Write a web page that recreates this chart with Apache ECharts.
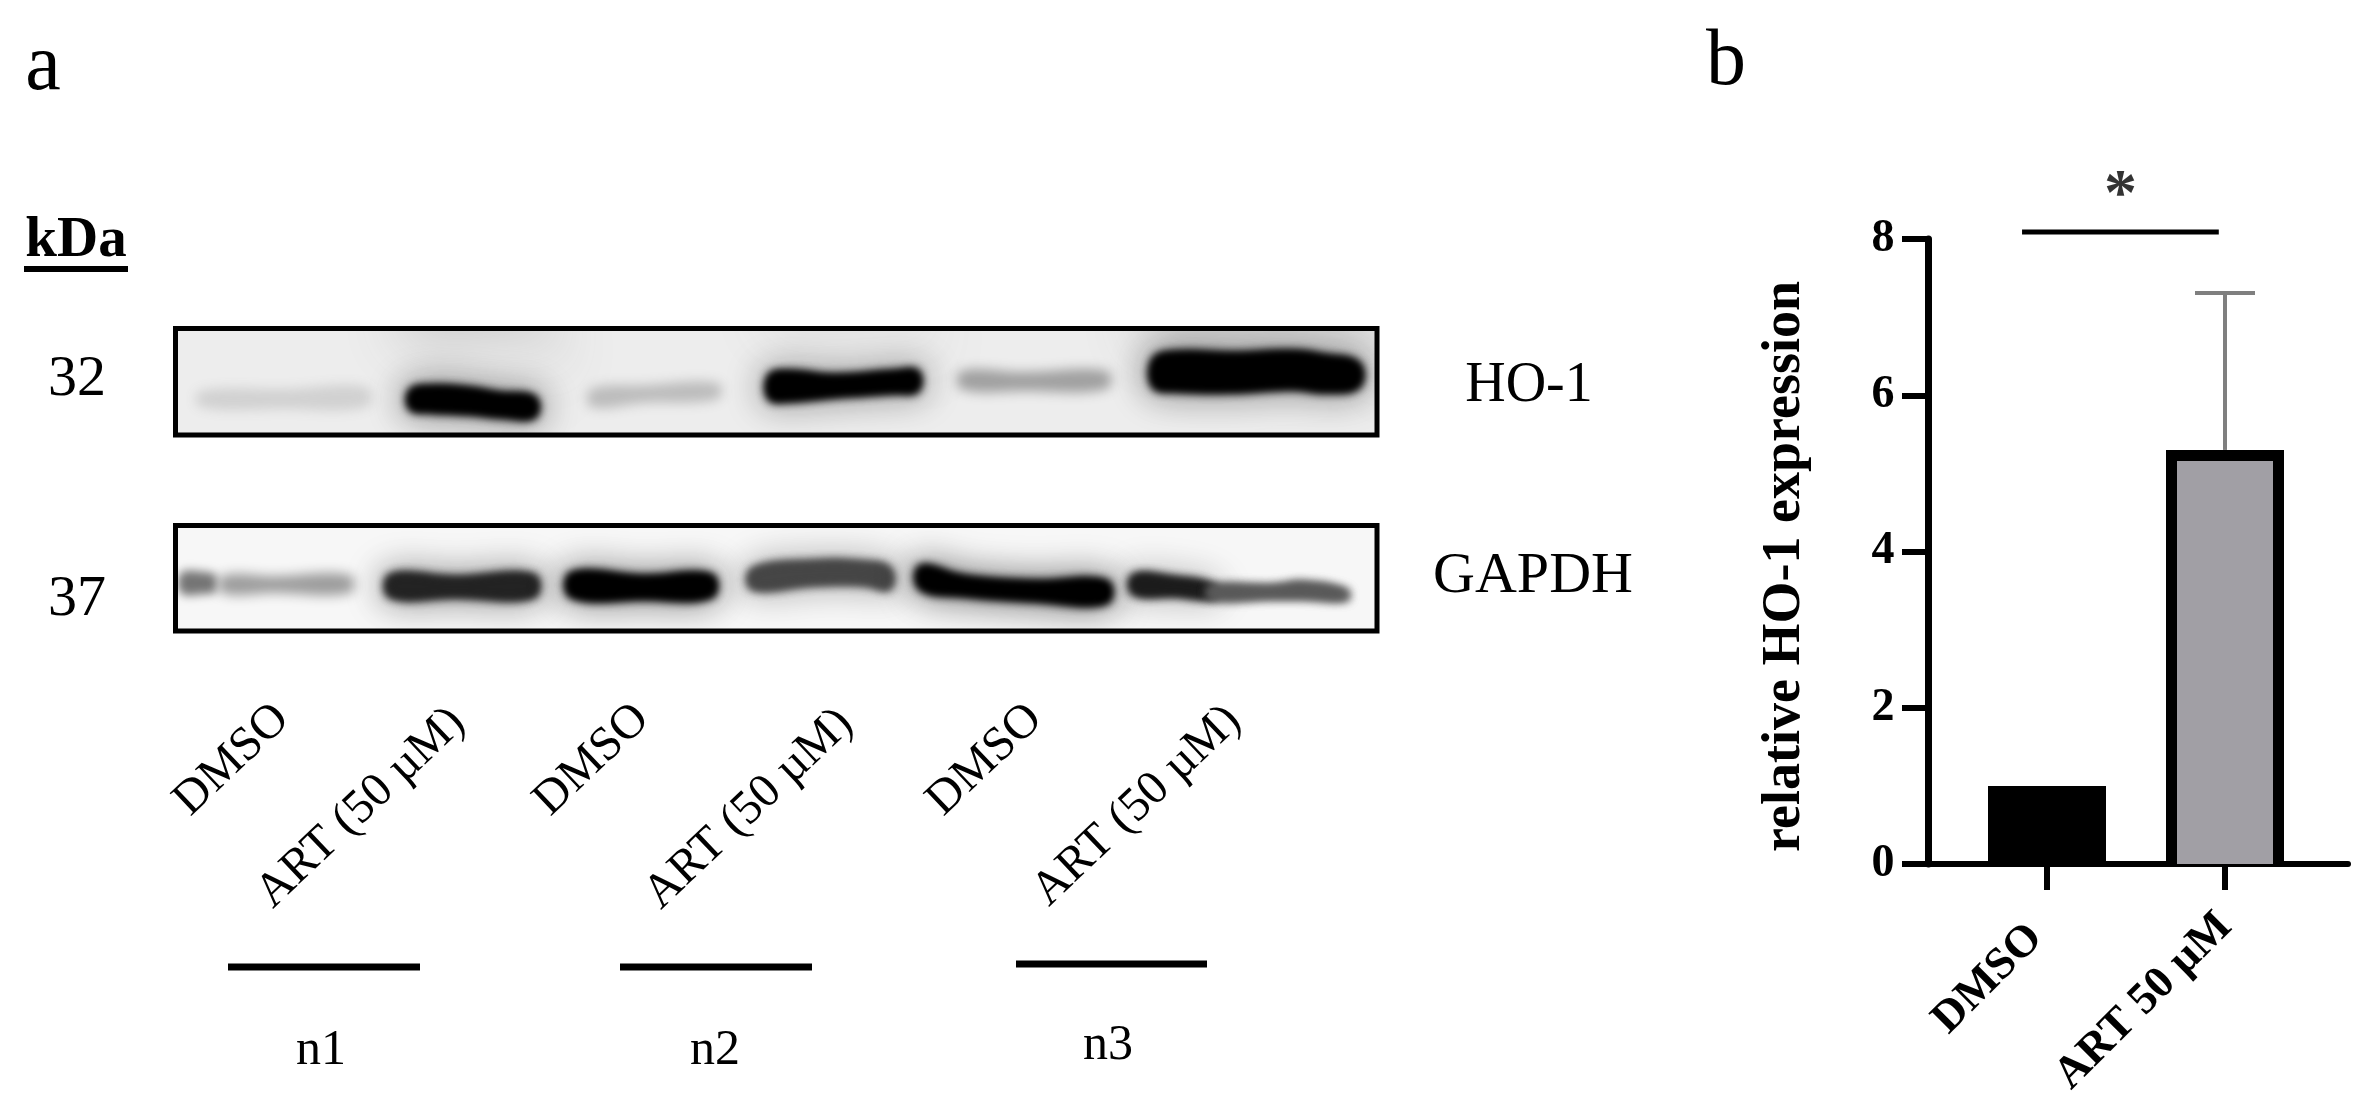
<!DOCTYPE html>
<html><head><meta charset="utf-8">
<style>html,body{margin:0;padding:0;background:#fff}#c{width:2371px;height:1117px}</style>
<script src="https://cdn.jsdelivr.net/npm/echarts@6/dist/echarts.min.js"></script>
</head><body><div id="c"></div>
<script>
// --- Panel b data
const barCategories = ['DMSO', 'ART 50 µM'];
const barValues = [1, 5.3];
const errorTop = [null, 7.31];
const outlined = [false, true];
const yTicks = [0, 2, 4, 6, 8];
const yTitle = 'relative HO-1 expression';
const sigLineX = [0.223, 0.692];
const sigLineY = 8.09;
const sigText = '*';
// --- Panel a text
const kda = 'kDa';
const proteinNames = ['HO-1', 'GAPDH'];
const kdaValues = ['32', '37'];
const laneLabels = ['DMSO', 'ART (50 µM)', 'DMSO', 'ART (50 µM)', 'DMSO', 'ART (50 µM)'];
const replicateNames = ['n1', 'n2', 'n3'];
// --- Blot bands: darkness (0-1) and outline rows [migration x, top edge, bottom edge]
const ho1Bands = [
  {d:0.16, blur:60, pts:[[235,-30,14],[365,-30,14],[365,125,125],[235,125,125]]},
  {d:0.1, blur:60, pts:[[600,-30,0],[740,-30,0],[740,125,125],[600,125,125]]},
  {d:0.16, blur:60, pts:[[975,-30,15],[1190,-30,15],[1190,125,125],[975,125,125]]},
  {d:0.11, blur:12, pts:[[26,64,80],[110,62,82],[193,60,80]]},
  {d:1, blur:10, halo:.3, pts:[[236,63,82],[256,59,85],[296,61,87],[326,66,90],[361,70,90]]},
  {d:0.2, blur:12, pts:[[417,62,80],[470,58,76],[544,56,72]]},
  {d:1, blur:10, halo:.25, pts:[[595,48,72],[615,44,74],[660,48,70],[720,44,66],[744,44,64]]},
  {d:0.32, blur:12, pts:[[787,44,62],[850,45,64],[933,44,62]]},
  {d:1, blur:10, halo:.3, pts:[[979,32,60],[1000,25,64],[1060,26,65],[1120,24,62],[1150,28,65],[1185,36,60]]}
];
const gapdhBands = [
  {d:0.5, blur:10, pts:[[7,48,68],[30,47,69],[42,51,66]]},
  {d:0.33, blur:12, pts:[[48,51,68],[100,51,68],[176,50,68]]},
  {d:0.85, blur:10, halo:.28, pts:[[216,50,72],[280,52,72],[360,50,72]]},
  {d:1, blur:10, halo:.32, pts:[[397,48,72],[470,51,74],[538,50,72]]},
  {d:0.7, blur:10, halo:.2, pts:[[578,44,64],[640,36,60],[690,37,60],[716,43,64]]},
  {d:1, blur:10, halo:.36, pts:[[746,41,64],[790,51,71],[860,56,76],[933,56,78]]},
  {d:0.88, blur:10, halo:.16, pts:[[959,50,69],[1000,52,71],[1040,60,73]]},
  {d:0.62, blur:10, pts:[[1036,61,74],[1100,60,74],[1130,57,74],[1173,65,75]]}
];

const serif = '"Liberation Serif","Times New Roman",serif';
const chart = echarts.init(document.getElementById('c'));
const OFF = 4000; // marks are drawn off-canvas so only their blurred shadow shows

function bandRender(bands) {
  return function (params, api) {
    const b = bands[params.dataIndex];
    const top = b.pts.map(p => api.coord([p[0], p[1]]));
    const bot = b.pts.map(p => api.coord([p[0], p[2]])).reverse();
    const g = Math.round(255 * (1 - b.d) * 0.92);
    const col = 'rgb(' + g + ',' + g + ',' + g + ')';
    const pts = top.concat(bot).map(p => [p[0] - OFF, p[1]]);
    const soft = (color, blur, lw) => ({type:'polygon', shape:{points:pts, smooth:.4},
      style:{fill:'#000', stroke:lw ? '#000' : null, lineWidth:lw || 0, shadowBlur:blur, shadowOffsetX:OFF, shadowColor:color}});
    const children = [];
    if (b.halo) children.push(soft('rgba(0,0,0,' + b.halo + ')', 34, 14));
    children.push(soft(col, b.blur));
    if (b.d > 0.6) children.push(soft(col, b.blur));
    return {type:'group', children};
  };
}
const bandSeries = (bands, idx) => ({
  type:'custom', xAxisIndex:idx, yAxisIndex:idx, clip:true, silent:true,
  data:bands.map((b,i)=>[b.pts[0][0], b.pts[0][1], i]), encode:{x:0,y:1},
  renderItem:bandRender(bands)
});
const hiddenVal = (extra) => Object.assign({type:'value', show:false, splitLine:{show:false}, scale:false}, extra);

const tx = (text, x, y, fontSize, o) => ({type:'text', x, y, rotation:(o&&o.rot)||0, silent:true,
  style:{text, fontFamily:serif, fontSize, fontWeight:(o&&o.bold)?'bold':'normal', fill:'#000', align:'center', verticalAlign:'middle'}});
const deg = d => d * Math.PI / 180;
const laneX = [232, 361, 592, 749, 985, 1137];
const laneY = [760, 808, 760, 809, 760, 806];
const repX = [[228,420],[620,812],[1016,1207]];
const repLineY = [967, 967, 964];
const repLabelX = [321, 715, 1108];
const repLabelY = [1051, 1051, 1046];
const frame = (x,y,w,h) => ({type:'rect', silent:true, z:100, shape:{x,y,width:w,height:h}, style:{fill:'none', stroke:'#000', lineWidth:5}});

const graphics = [
  frame(175.5, 328.5, 1201.5, 106.5),
  frame(175.5, 525.5, 1201.5, 105.5),
  tx('a', 43, 68, 80), tx('b', 1726, 63, 80),
  tx(kda, 76, 241, 57, {bold:true}),
  {type:'rect', silent:true, shape:{x:24,y:266,width:104,height:6}, style:{fill:'#000'}},
  tx(kdaValues[0], 77, 380, 58), tx(kdaValues[1], 77, 600, 58),
  tx(proteinNames[0], 1529, 386, 56), tx(proteinNames[1], 1533, 577, 58)
];
laneLabels.forEach((t,i)=>graphics.push(tx(t, laneX[i], laneY[i], 48, {rot:deg(43.5)})));
replicateNames.forEach((t,i)=>{
  graphics.push({type:'line', silent:true, shape:{x1:repX[i][0],y1:repLineY[i],x2:repX[i][1],y2:repLineY[i]}, style:{stroke:'#000',lineWidth:7}});
  graphics.push(tx(t, repLabelX[i], repLabelY[i], 50));
});

chart.setOption({
  animation:false,
  backgroundColor:'#fff',
  graphic:graphics,
  grid:[
    {left:175.5, top:328.5, width:1201.5, height:106.5, show:true, borderWidth:0, backgroundColor:'#ededed'},
    {left:175.5, top:525.5, width:1201.5, height:105.5, show:true, borderWidth:0, backgroundColor:'#f7f7f7'},
    {left:1928.5, top:239, width:419.5, height:625},
    {left:1958, top:239, width:356, height:625}
  ],
  xAxis:[
    hiddenVal({gridIndex:0, min:1.5, max:1203}),
    hiddenVal({gridIndex:1, min:1.5, max:1203}),
    {gridIndex:2, type:'value', min:0, max:1, axisLine:{show:true, onZero:false, lineStyle:{color:'#000', width:6}}, axisTick:{show:false}, axisLabel:{show:false}, splitLine:{show:false}},
    {gridIndex:3, type:'category',
      data:[{value:barCategories[0], textStyle:{padding:[0,16,0,0]}}, {value:barCategories[1]}],
      axisLine:{show:false},
      axisTick:{show:true, alignWithLabel:true, length:26, lineStyle:{color:'#000', width:6}},
      axisLabel:{rotate:45, margin:56, interval:0, fontFamily:serif, fontWeight:'bold', fontSize:45, color:'#000'}}
  ],
  yAxis:[
    hiddenVal({gridIndex:0, min:1.5, max:108, inverse:true}),
    hiddenVal({gridIndex:1, min:0.5, max:106, inverse:true}),
    {gridIndex:2, type:'value', min:0, max:8, interval:2,
      name:yTitle, nameLocation:'middle', nameGap:116, nameRotate:90, nameMoveOverlap:false,
      nameTextStyle:{fontFamily:serif, fontWeight:'bold', fontSize:54, color:'#000', padding:[0,30,0,0]},
      axisLine:{show:true, lineStyle:{color:'#000', width:7}},
      axisTick:{show:true, length:26.5, lineStyle:{color:'#000', width:6}},
      axisLabel:{margin:34, fontFamily:serif, fontWeight:'bold', fontSize:46, color:'#000',
        formatter:v => yTicks.includes(v) ? String(v) : ''},
      splitLine:{show:false}},
    hiddenVal({gridIndex:3, min:0, max:8})
  ],
  series:[
    bandSeries(ho1Bands, 0),
    bandSeries(gapdhBands, 1),
    {type:'bar', xAxisIndex:3, yAxisIndex:3, barWidth:118, z:3,
      data:[
        {value:barValues[0], itemStyle:{color:'#000'}},
        {value:barValues[1], itemStyle:{color:'#a19fa5'}}
      ]},
    {type:'custom', xAxisIndex:3, yAxisIndex:3, z:4, silent:true,
      data:barValues.map((v,i)=>[i, v, outlined[i] ? 1 : 0]).filter(r=>r[2]),
      encode:{x:0, y:1},
      renderItem(params, api){
        const t = api.coord([api.value(0), api.value(1)]);
        const b = api.coord([api.value(0), 0]);
        const half = 59 - 5.5;
        return {type:'polyline', shape:{points:[[t[0]-half,b[1]],[t[0]-half,t[1]+5.5],[t[0]+half,t[1]+5.5],[t[0]+half,b[1]]]},
          style:{fill:null, stroke:'#000', lineWidth:11, lineJoin:'miter'}};
      }},
    {type:'custom', xAxisIndex:3, yAxisIndex:3, z:2, silent:true,
      data:errorTop.map((v,i)=>[i, barValues[i], v]).filter(r=>r[2]!==null),
      encode:{x:0, y:[1,2]},
      renderItem(params, api){
        const a = api.coord([api.value(0), api.value(1)]);
        const b = api.coord([api.value(0), api.value(2)]);
        const st = {stroke:'#7f7f7f', lineWidth:4};
        return {type:'group', children:[
          {type:'line', shape:{x1:a[0],y1:a[1],x2:b[0],y2:b[1]}, style:st},
          {type:'line', shape:{x1:b[0]-30,y1:b[1],x2:b[0]+30,y2:b[1]}, style:st}
        ]};
      }},
    {type:'line', xAxisIndex:2, yAxisIndex:2, clip:false, silent:true, symbol:'none',
      data:[[sigLineX[0],sigLineY],[sigLineX[1],sigLineY]], lineStyle:{color:'#000', width:5}},
    {type:'scatter', xAxisIndex:2, yAxisIndex:2, clip:false, silent:true, symbolSize:1,
      data:[[(sigLineX[0]+sigLineX[1])/2 , sigLineY]], itemStyle:{color:'transparent'},
      label:{show:true, position:'top', distance:2, formatter:sigText, fontFamily:serif, fontWeight:'bold', fontSize:66, color:'#000'}}
  ]
});
</script></body></html>
